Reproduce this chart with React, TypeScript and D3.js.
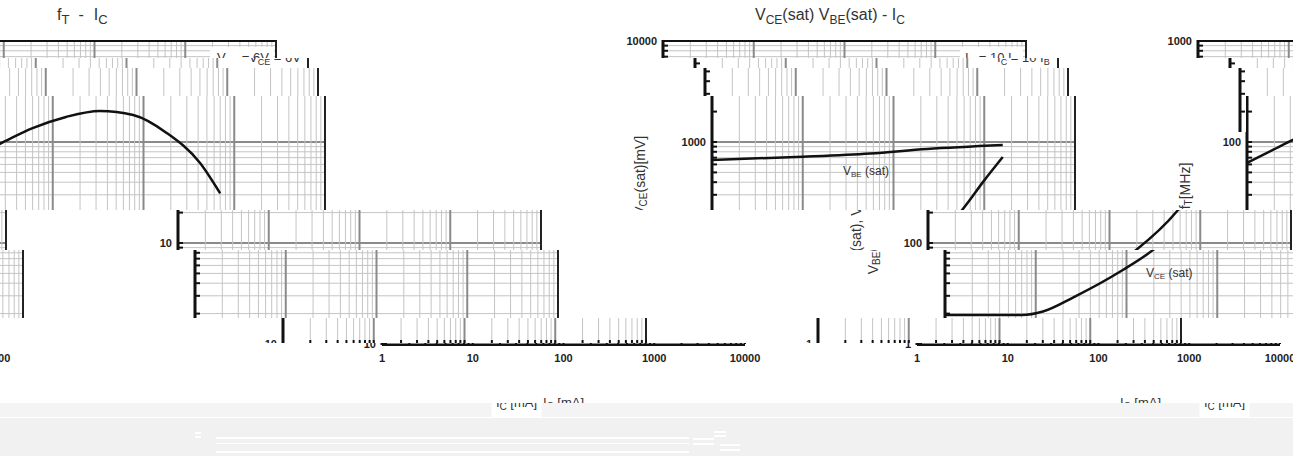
import React, { useEffect } from "react";
import * as d3 from "d3";

const W = 1293;
const H = 456;
const WRAP = 1285; // row period of the shifted strips
const FT_OFFSET = -750; // fT panel axis relative to the VCE panel axis
const PW = 363;
const TOP = 41;
const BOTTOM = 344;
const FONT = "'Liberation Sans', Arial, Helvetica, sans-serif";

// ---------- data ----------
const icTicks = [1, 10, 100, 1000, 10000];
const ftTicks = [1, 10, 100, 1000];
const vTicks = [10, 100, 1000, 10000];

const ftIc = [1, 2, 3.2, 6, 14, 33, 77, 180, 420, 700];
const ftMHz = [62, 85, 105, 137, 177, 203, 185, 123, 62, 31];

const vbeIc = [1, 10, 55, 234, 1600];
const vbeMv = [664, 715, 770, 852, 933];

const vceIc = [1, 7, 12, 26, 91, 195, 569, 1000, 1600];
const vceMv = [19.4, 19.4, 21, 29, 54, 85, 212, 417, 710];

// ---------- glitch strips (layout of the shifted scan bands) ----------
const stripTop = [0, 58, 68, 96, 210, 250, 318, 343, 403, 96];
const stripBottom = [58, 68, 96, 210, 250, 318, 343, 403, 417, 132];
const stripLeft = [0, 0, 0, 0, 0, 0, 0, 0, 0, 1232];
const stripRight = [W, W, W, W, W, W, W, W, W, 1246];
const stripAxisX = [663, 695, 705, 712, 928, 945, 283, 382, 1043, 705];
const stripFill = ["#fff", "#fff", "#fff", "#fff", "#fff", "#fff", "#fff", "#fff", "#f4f4f4", "#fff"];

// footer marks [x, y, w, h]
const footerMarks: number[][] = [
  [0, 417, 1293, 1],
  [216, 437, 473, 2],
  [216, 443, 473, 1],
  [216, 451, 473, 2],
  [693, 438, 21, 2],
  [693, 443, 21, 2],
  [714, 431, 12, 2],
  [714, 435, 12, 2],
  [720, 444, 20, 2],
  [720, 449, 20, 2],
  [195, 432, 6, 2],
  [195, 436, 6, 2],
];

const xScale = d3.scaleLog().domain([1, 10000]).range([0, PW]);
const yV = d3.scaleLog().domain([10, 10000]).range([BOTTOM, TOP]);
const yF = d3.scaleLog().domain([1, 1000]).range([BOTTOM, TOP]);

function gridValues(ticks: number[]) {
  const out: number[] = [];
  for (let i = 0; i < ticks.length - 1; i++)
    for (let k = 1; k < 10; k++) out.push(ticks[i] * k);
  out.push(ticks[ticks.length - 1]);
  return out;
}

// horizontal grid: the top decade of the printed grid only carries its 7-9 lines
function hGridValues(ticks: number[]) {
  const top = ticks[ticks.length - 2];
  return gridValues(ticks).filter((v) => v < top || v === top || v / top >= 7);
}

type Curve = { ic: number[]; val: number[] };

function Panel({
  ox,
  y,
  yTicks,
  curves,
  xTitleDx,
  children,
}: {
  ox: number;
  y: d3.ScaleLogarithmic<number, number>;
  yTicks: number[];
  curves: Curve[];
  xTitleDx: number;
  children?: React.ReactNode;
}) {
  const xs = gridValues(icTicks);
  const ys = gridValues(yTicks);
  const hs = hGridValues(yTicks);
  const path = (c: Curve) =>
    d3
      .line<number>()
      .x((d) => xScale(d))
      .y((_, i) => y(c.val[i]))
      .curve(d3.curveMonotoneX)(c.ic) || "";
  const xtc = PW / 2 + xTitleDx;
  return (
    <g transform={`translate(${ox},0)`} fontFamily={FONT}>
      {hs.map((v, i) => {
        const major = yTicks.includes(v);
        return (
          <line
            key={"h" + i}
            x1={0}
            x2={PW}
            y1={y(v)}
            y2={y(v)}
            stroke={major ? "#8a8a8a" : "#c4c4c4"}
            strokeWidth={major ? 2 : 1}
          />
        );
      })}
      {xs.map((v, i) => {
        const major = icTicks.includes(v);
        return (
          <line
            key={"v" + i}
            x1={xScale(v)}
            x2={xScale(v)}
            y1={TOP}
            y2={BOTTOM}
            stroke={major ? "#8a8a8a" : "#c4c4c4"}
            strokeWidth={major ? 2 : 1}
          />
        );
      })}
      <line x1={0} x2={PW + 1} y1={TOP} y2={TOP} stroke="#111" strokeWidth={2} />
      <line x1={PW} x2={PW} y1={TOP} y2={BOTTOM} stroke="#222" strokeWidth={2} />
      {ys.map((v, i) => (
        <line key={"yt" + i} x1={0} x2={5} y1={y(v)} y2={y(v)} stroke="#111" strokeWidth={2} />
      ))}
      {xs.map((v, i) => (
        <line
          key={"xt" + i}
          x1={xScale(v)}
          x2={xScale(v)}
          y1={BOTTOM}
          y2={BOTTOM - 4}
          stroke="#111"
          strokeWidth={2}
        />
      ))}
      <line x1={0} x2={0} y1={TOP - 1} y2={BOTTOM + 1} stroke="#111" strokeWidth={3} />
      <line x1={0} x2={PW} y1={BOTTOM + 1} y2={BOTTOM + 1} stroke="#111" strokeWidth={2} />
      {yTicks.map((v) => (
        <text key={"yl" + v} x={-6} y={y(v) + 4} textAnchor="end" fontSize={11} fontWeight="bold" fill="#222">
          {v}
        </text>
      ))}
      {icTicks.map((v) => (
        <text key={"xl" + v} x={xScale(v)} y={362} textAnchor="middle" fontSize={11} fontWeight="bold" fill="#222">
          {v}
        </text>
      ))}
      {curves.map((c, i) => (
        <path key={"c" + i} d={path(c)} fill="none" stroke="#111" strokeWidth={2.5} />
      ))}
      <rect x={xtc - 25} y={395} width={50} height={22} fill="#fff" />
      <text x={xtc} y={407} textAnchor="middle" fontSize={13} fill="#333">
        I<tspan fontSize={10} dy={3}>C</tspan>
        <tspan dy={-3}> [mA]</tspan>
      </text>
      {children}
    </g>
  );
}

function Source() {
  return (
    <g>
      <Panel ox={FT_OFFSET} y={yF} yTicks={ftTicks} curves={[{ ic: ftIc, val: ftMHz }]} xTitleDx={42}>
        <text x={144} y={20} fontSize={16} fill="#333">
          f<tspan fontSize={13} dy={4}>T</tspan>
          <tspan dy={-4} dx={9}>-</tspan>
          <tspan dx={10}>I</tspan>
          <tspan fontSize={13} dy={4}>C</tspan>
        </text>
        <rect x={297} y={47} width={64} height={21} fill="#fff" />
        <text x={304} y={62} fontSize={13} fill="#333">
          V<tspan fontSize={9} dy={3}>CE</tspan>
          <tspan dy={-3}> = 6V</tspan>
        </text>
        <text
          transform={`translate(-62,186) rotate(-90)`}
          textAnchor="middle"
          dominantBaseline="central"
          fontSize={14}
          fill="#333"
        >
          f<tspan fontSize={10} dy={3}>T</tspan>
          <tspan dy={-3}>[MHz]</tspan>
        </text>
      </Panel>
      <Panel
        ox={0}
        y={yV}
        yTicks={vTicks}
        curves={[
          { ic: vbeIc, val: vbeMv },
          { ic: vceIc, val: vceMv },
        ]}
        xTitleDx={0}
      >
        <text x={92} y={20} fontSize={16} fill="#333">
          V<tspan fontSize={12} dy={4}>CE</tspan>
          <tspan dy={-4}>(sat) V</tspan>
          <tspan fontSize={12} dy={4}>BE</tspan>
          <tspan dy={-4}>(sat) - I</tspan>
          <tspan fontSize={12} dy={4}>C</tspan>
        </text>
        <rect x={297} y={47} width={63} height={21} fill="#fff" />
        <text x={302} y={62} fontSize={13} fill="#333">
          I<tspan fontSize={9} dy={3}>C</tspan>
          <tspan dy={-3}> = 10 I</tspan>
          <tspan fontSize={9} dy={3}>B</tspan>
        </text>
        <text x={131} y={175} fontSize={12} fill="#333">
          V<tspan fontSize={8} dy={2}>BE</tspan>
          <tspan dy={-2}> (sat)</tspan>
        </text>
        <text x={201} y={277} fontSize={12} fill="#333">
          V<tspan fontSize={8} dy={2}>CE</tspan>
          <tspan dy={-2}> (sat)</tspan>
        </text>
        <text
          transform={`translate(-72,205) rotate(-90)`}
          textAnchor="middle"
          dominantBaseline="central"
          fontSize={14}
          fill="#333"
        >
          V<tspan fontSize={10} dy={3}>BE</tspan>
          <tspan dy={-3}>(sat), V</tspan>
          <tspan fontSize={10} dy={3}>CE</tspan>
          <tspan dy={-3}>(sat)[mV]</tspan>
        </text>
      </Panel>
    </g>
  );
}

export default function App() {
  useEffect(() => {
    document.body.style.margin = "0";
  }, []);
  return (
    <svg
      width={W}
      height={H}
      viewBox={`0 0 ${W} ${H}`}
      style={{ position: "absolute", left: 0, top: 0, display: "block" }}
    >
      <defs>
        <g id="src">
          <Source />
        </g>
        {stripTop.map((t, i) => (
          <clipPath id={`strip${i}`} key={"cp" + i}>
            <rect x={stripLeft[i]} y={t} width={stripRight[i] - stripLeft[i]} height={stripBottom[i] - t} />
          </clipPath>
        ))}
      </defs>
      <rect x={0} y={0} width={W} height={H} fill="#fff" />
      <rect x={0} y={403} width={W} height={H - 403} fill="#f1f1f1" />
      {stripTop.map((t, i) => (
        <g key={"s" + i} clipPath={`url(#strip${i})`}>
          <rect
            x={stripLeft[i]}
            y={t}
            width={stripRight[i] - stripLeft[i]}
            height={stripBottom[i] - t}
            fill={stripFill[i]}
          />
          {[-WRAP, 0, WRAP].map((k) => (
            <use key={k} href="#src" transform={`translate(${stripAxisX[i] + k},0)`} />
          ))}
        </g>
      ))}
      {footerMarks.map((m, i) => (
        <rect key={"f" + i} x={m[0]} y={m[1]} width={m[2]} height={m[3]} fill="#fff" />
      ))}
    </svg>
  );
}
